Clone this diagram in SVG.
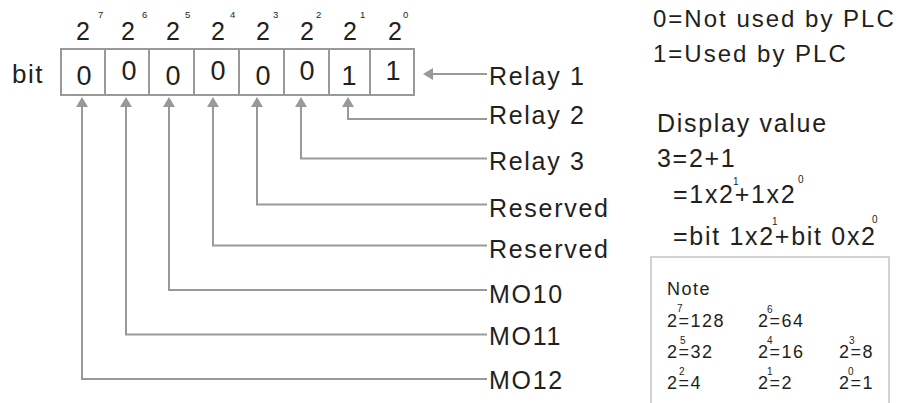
<svg xmlns="http://www.w3.org/2000/svg" width="900" height="403" viewBox="0 0 900 403">
<style>
text{font-family:"Liberation Sans",Arial,sans-serif;fill:#231f20}
.lbl{font-size:25px;letter-spacing:1.7px}
.rt{font-size:24px;letter-spacing:2px}
.hd{font-size:25px}
.sup{font-size:10px}
.hsup{font-size:9.5px}
.dig{font-size:27px;text-anchor:middle}
.nt{font-size:18px;letter-spacing:1.5px}
.nsup{font-size:10px}
.cell{fill:#fff;stroke:#999;stroke-width:2}
.conn{fill:none;stroke:#999;stroke-width:2}
.note{fill:#fff;stroke:#c4c4c4;stroke-width:1.5}
</style>
<defs>
<marker id="arr" viewBox="0 0 10 12" refX="0" refY="6" markerWidth="10" markerHeight="12" markerUnits="userSpaceOnUse" orient="auto">
<path d="M0,0 L10,6 L0,12 z" fill="#999"/>
</marker>
</defs>
<rect width="900" height="403" fill="#fff"/>

<g id="weights">
<text class="hd" x="76" y="40">2</text><text class="hsup" x="98" y="18">7</text>
<text class="hd" x="121" y="40">2</text><text class="hsup" x="142" y="18">6</text>
<text class="hd" x="166" y="40">2</text><text class="hsup" x="185" y="18">5</text>
<text class="hd" x="211" y="40">2</text><text class="hsup" x="230" y="18">4</text>
<text class="hd" x="256" y="40">2</text><text class="hsup" x="273" y="18">3</text>
<text class="hd" x="300" y="40">2</text><text class="hsup" x="316" y="18">2</text>
<text class="hd" x="343" y="40">2</text><text class="hsup" x="360" y="18">1</text>
<text class="hd" x="388" y="40">2</text><text class="hsup" x="403" y="18">0</text>
</g>

<g id="register">
<text x="12" y="83" style="font-size:26px;letter-spacing:1.5px">bit</text>
<rect class="cell" x="61" y="49" width="44" height="46"/>
<rect class="cell" x="105" y="49" width="44" height="46"/>
<rect class="cell" x="149" y="49" width="45" height="46"/>
<rect class="cell" x="194" y="49" width="45" height="46"/>
<rect class="cell" x="239" y="49" width="45" height="46"/>
<rect class="cell" x="284" y="49" width="45" height="46"/>
<rect class="cell" x="329" y="49" width="41" height="46"/>
<rect class="cell" x="370" y="49" width="44" height="46"/>
<text class="dig" x="84" y="85">0</text>
<text class="dig" x="129" y="80">0</text>
<text class="dig" x="173" y="85">0</text>
<text class="dig" x="218" y="80">0</text>
<text class="dig" x="263" y="85">0</text>
<text class="dig" x="307" y="80">0</text>
<text class="dig" x="349" y="85">1</text>
<text class="dig" x="393" y="80">1</text>
</g>

<g id="connectors">
<path class="conn" d="M487,74 H433" marker-end="url(#arr)"/>
<path class="conn" d="M487,119 H348 V107" marker-end="url(#arr)"/>
<path class="conn" d="M487,158.5 H301 V107" marker-end="url(#arr)"/>
<path class="conn" d="M487,204.5 H257 V107" marker-end="url(#arr)"/>
<path class="conn" d="M487,245.5 H213 V107" marker-end="url(#arr)"/>
<path class="conn" d="M487,290 H169 V107" marker-end="url(#arr)"/>
<path class="conn" d="M487,334.5 H126 V107" marker-end="url(#arr)"/>
<path class="conn" d="M487,379 H82 V107" marker-end="url(#arr)"/>
</g>

<g id="label-relay1"><text class="lbl" x="489" y="85">Relay 1</text></g>
<g id="label-relay2"><text class="lbl" x="489" y="124">Relay 2</text></g>
<g id="label-relay3"><text class="lbl" x="489" y="170">Relay 3</text></g>
<g id="label-reserved1"><text class="lbl" x="489" y="216.5">Reserved</text></g>
<g id="label-reserved2"><text class="lbl" x="489" y="258">Reserved</text></g>
<g id="label-mo10"><text class="lbl" x="489" y="302.5">MO10</text></g>
<g id="label-mo11"><text class="lbl" x="489" y="345">MO11</text></g>
<g id="label-mo12"><text class="lbl" x="489" y="388.5">MO12</text></g>

<g id="legend">
<text class="rt" x="653" y="27">0=Not used by PLC</text>
<text class="rt" x="653" y="62">1=Used by PLC</text>
</g>

<g id="display-value">
<text class="lbl" x="657" y="132">Display value</text>
<text class="lbl" x="657" y="167">3=2+1</text>
<text class="lbl" x="673" y="203">=1x2+1x2</text>
<text class="sup" x="733" y="185">1</text>
<text class="sup" x="798" y="183">0</text>
<text class="lbl" x="673" y="245">=bit 1x2+bit 0x2</text>
<text class="sup" x="772" y="225">1</text>
<text class="sup" x="872" y="223">0</text>
</g>

<g id="note">
<rect class="note" x="651" y="257" width="238" height="160"/>
<text class="nt" x="667" y="295">Note</text>
<text class="nt" x="667" y="327">2=128</text><text class="nsup" x="677" y="312">7</text>
<text class="nt" x="758" y="327">2=64</text><text class="nsup" x="767" y="313">6</text>
<text class="nt" x="667" y="358">2=32</text><text class="nsup" x="680" y="344">5</text>
<text class="nt" x="758" y="358">2=16</text><text class="nsup" x="767" y="344">4</text>
<text class="nt" x="839" y="358">2=8</text><text class="nsup" x="849" y="344">3</text>
<text class="nt" x="667" y="389">2=4</text><text class="nsup" x="679" y="375">2</text>
<text class="nt" x="758" y="389">2=2</text><text class="nsup" x="767" y="375">1</text>
<text class="nt" x="839" y="389">2=1</text><text class="nsup" x="848" y="375">0</text>
</g>
</svg>
